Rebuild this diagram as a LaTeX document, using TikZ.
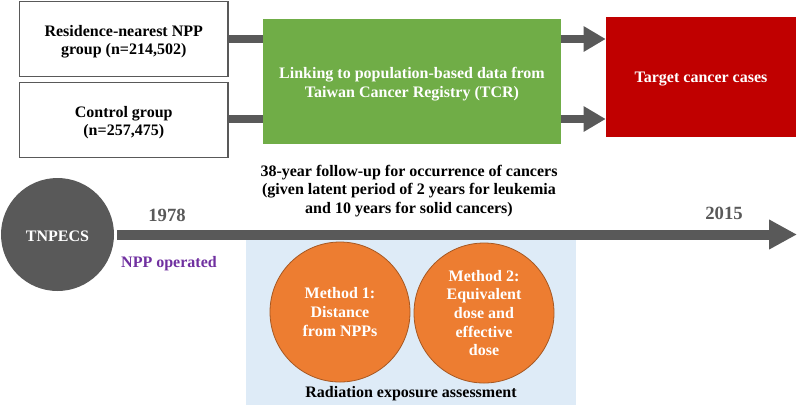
\documentclass[tikz,border=0pt]{standalone}
\usepackage{fontspec}
\setmainfont{Liberation Serif}
\usetikzlibrary{arrows.meta}
\definecolor{cGreen}{HTML}{70AD47}
\definecolor{cRed}{HTML}{C00000}
\definecolor{cOrange}{HTML}{ED7D31}
\definecolor{cBlue}{HTML}{DEEBF7}
\definecolor{cGray}{HTML}{595959}
\definecolor{cPurple}{HTML}{7030A0}
\tikzstyle{label} = [font=\fontsize{12pt}{14pt}\selectfont\bfseries, align=center, inner sep=0pt, execute at begin node={\rule{0pt}{11pt}}]
\tikzstyle{raised} = [execute at begin node={\rule{0pt}{26.5pt}}]
\tikzstyle{rect} = [label, raised, rectangle, minimum width=156.4pt, minimum height=56.6pt, draw=cGray, line width=0.9pt, fill=white]
\tikzstyle{solid} = [label, rectangle, text=white]
\tikzstyle{mCircle} = [label, circle, minimum size=105pt, draw=cOrange!70!black, line width=0.6pt, fill=cOrange, text=white]
\tikzstyle{year} = [inner sep=0pt, font=\fontsize{14pt}{16pt}\selectfont\bfseries, text=cGray]
\tikzstyle{arrow} = [cGray, line width=6pt, -{Triangle[length=16.5pt,width=18pt]}]
\tikzstyle{bar} = [cGray, line width=6pt]

\begin{document}
\begin{tikzpicture}[x=0.75pt,y=-0.75pt]
        \useasboundingbox (0,0) rectangle (798,405);
        \node[rectangle, fill=cBlue, minimum width=247.5pt, minimum height=124.5pt, inner sep=0pt] (assess) at (411,322) {};

        \node[rect] (nearest) at (123.75,39) {Residence-nearest NPP\\group (n=214,502)};
        \node[rect] (control) at (123.75,120) {Control group\\(n=257,475)};
        \node[solid, raised, fill=cGreen, minimum width=223.5pt, minimum height=93.75pt] (tcr) at (412,81.5) {Linking to population-based data from\\Taiwan Cancer Registry (TCR)};
        \node[solid, fill=cRed, minimum width=142.5pt, minimum height=90pt] (cases) at (701,77) {Target cancer cases};

        \draw[bar] (nearest.east)--(nearest.east -| tcr.west);
        \draw[bar] ([yshift=0.75pt]control.east)--([yshift=0.75pt]control.east -| tcr.west);
        \draw[arrow] (nearest.east -| tcr.east)--(nearest.east -| cases.west);
        \draw[arrow] ([yshift=0.75pt]control.east -| tcr.east)--([yshift=0.75pt]control.east -| cases.west);

        \node[label] (followup) at (409,191) {38-year follow-up for occurrence of cancers\\(given latent period of 2 years for leukemia\\and 10 years for solid cancers)};

        \node[label, circle, fill=cGray, text=white, minimum size=84.75pt] (tnpecs) at (57.5,234.5) {TNPECS};
        \coordinate (tend) at (797,234.5);
        \draw[cGray, line width=7.5pt, shorten <=2.25pt, -{Triangle[length=21pt,width=21pt]}] (tnpecs.east)--(tend);

        \node[year] (start) at (167,215) {1978};
        \node[year] (stop) at (724,213) {2015};
        \node[label, text=cPurple] (operated) at (169,262) {NPP operated};

        \node[mCircle] (method1) at (340,312) {Method 1:\\Distance\\from NPPs};
        \node[mCircle] (method2) at (484,313) {Method 2:\\Equivalent\\dose and\\effective\\dose};
        \node[label] (radiation) at (411,392) {Radiation exposure assessment};
\end{tikzpicture}
\end{document}
